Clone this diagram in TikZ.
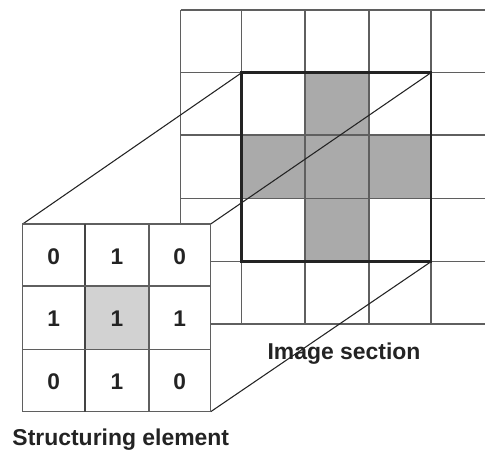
\documentclass[tikz,border=0pt]{standalone}
\usepackage{fontspec}
\setmainfont{Liberation Sans}
\definecolor{gridgray}{RGB}{95,95,95}
\definecolor{crossgray}{RGB}{170,170,170}
\definecolor{cellgray}{RGB}{210,210,210}
\definecolor{inkdark}{RGB}{35,35,35}
\tikzset{
  gridline/.style={draw=gridgray, line width=0.95pt},
  frameline/.style={draw=inkdark, line width=1.9pt},
  persp/.style={draw=inkdark, line width=0.8pt},
  digit/.style={inner sep=0pt, font=\fontsize{17}{20}\selectfont\bfseries, text=inkdark},
  captext/.style={inner sep=0pt, font=\fontsize{17.2}{20}\selectfont\bfseries, text=inkdark},
}
\begin{document}
\begin{tikzpicture}[x=0.75pt,y=-0.75pt]
\useasboundingbox (0,0) rectangle (485,452);
% corners of the image section and the structuring element
\coordinate (sqTL) at (241.7,72.7);
\coordinate (sqTR) at (431,72.7);
\coordinate (sqBR) at (431,261.7);
\coordinate (sqBL) at (241.7,261.7);
\coordinate (seTL) at (22.7,224);
\coordinate (seTR) at (210.7,224);
\coordinate (seBR) at (210.7,411.7);
\coordinate (seBL) at (22.7,411.7);
% cross fill
\fill[crossgray] (305,72.7) rectangle (369,261.7);
\fill[crossgray] (241.7,135) rectangle (431,198.5);
% image grid
\foreach \x in {180.5,241.7,305,369,431} \draw[gridline] (\x,10) -- (\x,324);
\foreach \y in {10,72.7,135,198.5,261.7,324} \draw[gridline] (180.5,\y) -- (485,\y);
% image section frame
\draw[frameline] (sqTL) rectangle (sqBR);
% perspective lines
\draw[persp] (seTL) -- (sqTL);
\draw[persp] (seTR) -- (sqTR);
\draw[persp] (seBR) -- (sqBR);
% structuring element
\fill[white] (seTL) rectangle (seBR);
\fill[cellgray] (85,286) rectangle (149,349.3);
\draw[gridline] (seTL) rectangle (seBR);
\draw[gridline] (149,224) -- (149,411.7);
\draw[gridline, line width=1.5pt, draw=inkdark!85] (85,224) -- (85,411.7);
\draw[gridline] (22.7,286) -- (210.7,286);
\draw[gridline] (22.7,349.3) -- (210.7,349.3);
% digits
\node[digit] (d11) at (53.8,256.5) {0};
\node[digit] (d12) at (117,256.5) {1};
\node[digit] (d13) at (179.8,256.5) {0};
\node[digit] (d21) at (53.8,319) {1};
\node[digit] (d22) at (117,319) {1};
\node[digit] (d23) at (179.8,319) {1};
\node[digit] (d31) at (53.8,381.5) {0};
\node[digit] (d32) at (117,381.5) {1};
\node[digit] (d33) at (179.8,381.5) {0};
% captions
\node[captext, anchor=base] (imlabel) at (344,359.3) {Image section};
\node[captext, anchor=base] (selabel) at (120.8,445.7) {Structuring element};
\end{tikzpicture}
\end{document}
